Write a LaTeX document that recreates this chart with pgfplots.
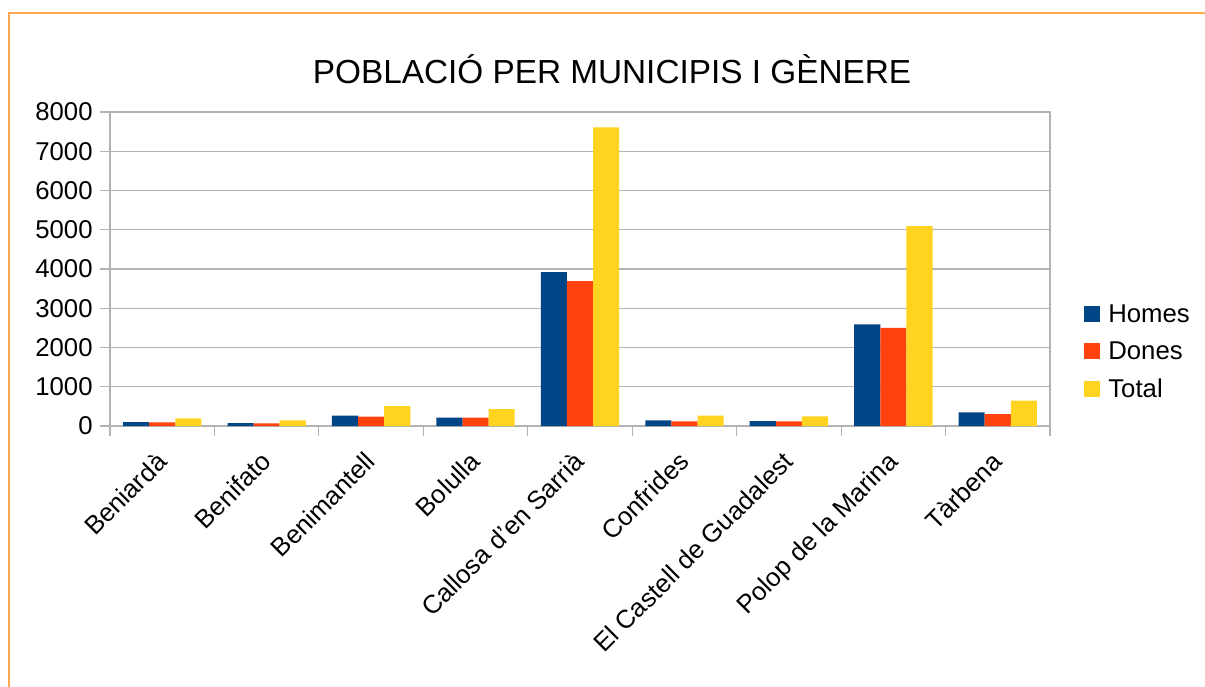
\documentclass[border=0pt]{standalone}
\usepackage{pgfplots}
\pgfplotsset{compat=1.18}
\usepackage{fontspec}
\setmainfont{Liberation Sans}
\definecolor{homes}{HTML}{004586}
\definecolor{dones}{HTML}{FF420E}
\definecolor{total}{HTML}{FFD320}
\definecolor{gridc}{HTML}{B3B3B3}
\definecolor{frame}{RGB}{255,170,80}
\begin{document}
\begin{tikzpicture}
\begin{scope}[x=0.75pt,y=-0.75pt]
\useasboundingbox (0,0) rectangle (1205,686);
\fill[white] (0,0) rectangle (1205,686);
\draw[frame, line width=1.5pt] (9,700) -- (9,12.5) -- (1220,12.5);
\node[font=\fontsize{25}{30}\selectfont, anchor=center] at (612,69) {POBLACIÓ PER MUNICIPIS I GÈNERE};
\end{scope}
\begin{axis}[
  at={(82.5pt,-319.5pt)}, anchor=south west,
  scale only axis, width=705pt, height=235.5pt,
  ybar=0pt, bar width=0.25,
  xmin=-0.5, xmax=8.5, ymin=0, ymax=8000,
  xtick={0,...,8},
  xticklabels={Beniardà,Benifato,Benimantell,Bolulla,Callosa d’en Sarrià,Confrides,El Castell de Guadalest,Polop de la Marina,Tàrbena},
  major x tick style={draw=none},
  minor xtick={-0.5,0.5,...,8.5},
  minor x tick style={gridc, line width=0.9pt},
  ytick={0,1000,...,8000},
  tick align=outside, tick pos=left,
  major tick length=7.5pt, minor tick length=7.5pt,
  y tick style={gridc, line width=0.9pt},
  ymajorgrids, grid style={gridc, line width=0.9pt},
  axis line style={gridc, line width=0.9pt},
  scaled y ticks=false,
  /pgf/number format/fixed,
  /pgf/number format/1000 sep={},
  /pgf/number format/assume math mode=true,
  ticklabel style={font=\fontsize{19.3}{23}\selectfont},
  xticklabel style={xshift=-5.5pt, yshift=-1.5pt, rotate=45, anchor=north east, inner sep=0pt},
  xticklabel shift=9pt,
  yticklabel style={xshift=-2pt},
  legend style={at={(1.032,0.236)}, anchor=west, draw=none, fill=none,
    font=\fontsize{19.3}{23}\selectfont, row sep=9pt,
    /tikz/every even column/.append style={column sep=2pt},
    /tikz/every odd column/.append style={column sep=4pt}},
  legend cell align=left,
  legend image code/.code={\fill[#1] (0pt,-6pt) rectangle (12pt,6pt);},
]
\addplot[fill=homes, draw=none] coordinates {(0,100) (1,75) (2,265) (3,215) (4,3920) (5,145) (6,125) (7,2590) (8,350)};
\addplot[fill=dones, draw=none] coordinates {(0,95) (1,70) (2,240) (3,215) (4,3690) (5,120) (6,120) (7,2500) (8,300)};
\addplot[fill=total, draw=none] coordinates {(0,195) (1,145) (2,505) (3,430) (4,7610) (5,265) (6,245) (7,5090) (8,650)};
\legend{Homes,Dones,Total}
\end{axis}
\end{tikzpicture}
\end{document}
